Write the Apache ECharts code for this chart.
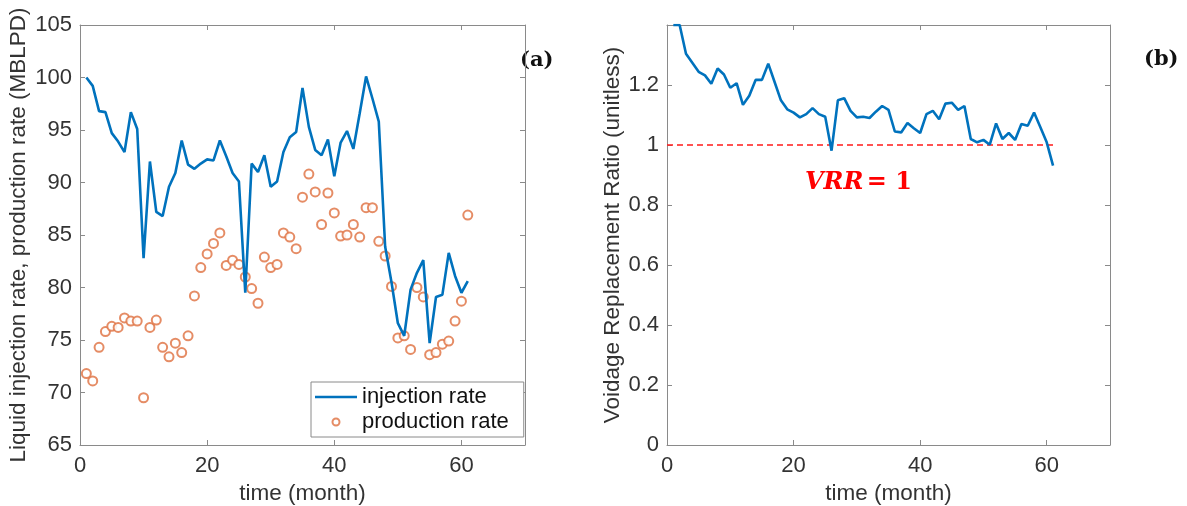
<!DOCTYPE html>
<html>
<head>
<meta charset="utf-8">
<script src="https://cdn.jsdelivr.net/npm/echarts@6/dist/echarts.min.js"></script>
<style>
  html, body { margin: 0; padding: 0; background: #fff; }
  #chart { width: 1187px; height: 506px; }
</style>
</head>
<body>
<div id="chart"></div>
<script>
// Monthly time index
const months = [1, 2, 3, 4, 5, 6, 7, 8, 9, 10, 11, 12, 13, 14, 15, 16, 17, 18, 19, 20,
  21, 22, 23, 24, 25, 26, 27, 28, 29, 30, 31, 32, 33, 34, 35, 36, 37, 38, 39, 40,
  41, 42, 43, 44, 45, 46, 47, 48, 49, 50, 51, 52, 53, 54, 55, 56, 57, 58, 59, 60, 61];

// Liquid injection rate (MBLPD)
const injectionRate = [100.0, 99.2, 96.8, 96.7, 94.7, 93.9, 92.9, 96.7, 95.1, 82.8,
  92.0, 87.2, 86.8, 89.6, 90.9, 94.0, 91.7, 91.3, 91.8, 92.2,
  92.1, 94.0, 92.5, 90.9, 90.1, 79.5, 91.8, 91.0, 92.6, 89.6,
  90.1, 92.9, 94.3, 94.8, 99.0, 95.3, 93.1, 92.6, 94.1, 90.6,
  93.8, 94.9, 93.2, 96.6, 100.1, 98.0, 95.8, 83.9, 80.5, 76.6,
  75.4, 79.8, 81.4, 82.6, 74.7, 79.1, 79.3, 83.3, 81.1, 79.5, 80.6];

// Liquid production rate (MBLPD)
const productionRate = [71.8, 71.1, 74.3, 75.8, 76.3, 76.2, 77.1, 76.8, 76.8, 69.5,
  76.2, 76.9, 74.3, 73.4, 74.7, 73.8, 75.4, 79.2, 81.9, 83.2,
  84.2, 85.2, 82.1, 82.6, 82.2, 81.0, 79.9, 78.5, 82.9, 81.9,
  82.2, 85.2, 84.8, 83.7, 88.6, 90.8, 89.1, 86.0, 89.0, 87.1,
  84.9, 85.0, 86.0, 84.8, 87.6, 87.6, 84.4, 83.0, 80.1, 75.2,
  75.4, 74.1, 80.0, 79.1, 73.6, 73.8, 74.6, 74.9, 76.8, 78.7, 86.9];

// Voidage replacement ratio (unitless)
const vrr = [1.40, 1.40, 1.304, 1.274, 1.244, 1.232, 1.204, 1.255, 1.235, 1.191,
  1.206, 1.134, 1.164, 1.217, 1.217, 1.271, 1.210, 1.149, 1.119, 1.108,
  1.092, 1.103, 1.123, 1.103, 1.094, 0.981, 1.149, 1.156, 1.114, 1.092,
  1.094, 1.090, 1.111, 1.130, 1.117, 1.045, 1.042, 1.073, 1.056, 1.040,
  1.103, 1.114, 1.086, 1.138, 1.141, 1.117, 1.130, 1.020, 1.009, 1.017,
  1.001, 1.072, 1.020, 1.040, 1.017, 1.070, 1.064, 1.108, 1.059, 1.009, 0.931];

// Reference level VRR = 1, spanning the record
const vrrRefX = [0, 61];
const vrrRefY = [1, 1];

const FONT = '"Liberation Sans", Arial, sans-serif';
const AXIS_GRAY = '#8a8a8a';
const TEXT_DARK = '#333333';
const TICK_FONT = 22;
const NAME_FONT = 22.5;

function bottomAxis(gridIndex, name) {
  return {
    type: 'value', gridIndex, position: 'bottom',
    min: 0, max: 70, interval: 20,
    name, nameLocation: 'middle', nameGap: 37,
    nameTextStyle: { fontFamily: FONT, fontSize: NAME_FONT, color: TEXT_DARK },
    axisLine: { show: true, onZero: false, lineStyle: { color: AXIS_GRAY, width: 1 } },
    axisTick: { show: true, inside: true, length: 5, lineStyle: { color: AXIS_GRAY } },
    axisLabel: { fontFamily: FONT, fontSize: TICK_FONT, color: TEXT_DARK, margin: 10, showMaxLabel: false },
    splitLine: { show: false }
  };
}
function topAxis(gridIndex) {
  return {
    type: 'value', gridIndex, position: 'top',
    min: 0, max: 70, interval: 20,
    axisLine: { show: true, onZero: false, lineStyle: { color: AXIS_GRAY, width: 1 } },
    axisTick: { show: true, inside: true, length: 5, lineStyle: { color: AXIS_GRAY } },
    axisLabel: { show: false },
    splitLine: { show: false }
  };
}
function leftAxis(gridIndex, min, max, interval, name, nameGap) {
  return {
    type: 'value', gridIndex, position: 'left',
    min, max, interval,
    name, nameLocation: 'middle', nameGap,
    nameTextStyle: { fontFamily: FONT, fontSize: NAME_FONT, color: TEXT_DARK },
    axisLine: { show: true, onZero: false, lineStyle: { color: AXIS_GRAY, width: 1 } },
    axisTick: { show: true, inside: true, length: 5, lineStyle: { color: AXIS_GRAY } },
    axisLabel: { fontFamily: FONT, fontSize: TICK_FONT, color: TEXT_DARK, margin: 8 },
    splitLine: { show: false }
  };
}
function rightAxis(gridIndex, min, max, interval) {
  return {
    type: 'value', gridIndex, position: 'right',
    min, max, interval,
    axisLine: { show: true, onZero: false, lineStyle: { color: AXIS_GRAY, width: 1 } },
    axisTick: { show: true, inside: true, length: 5, lineStyle: { color: AXIS_GRAY } },
    axisLabel: { show: false },
    splitLine: { show: false }
  };
}

const rightY = leftAxis(1, 0, 1.4, 0.2, 'Voidage Replacement Ratio (unitless)', 43);
rightY.axisLabel.showMaxLabel = false;

const chart = echarts.init(document.getElementById('chart'), null, { renderer: 'canvas' });
chart.setOption({
  animation: false,
  backgroundColor: '#ffffff',
  grid: [
    { left: 80, top: 25, width: 445, height: 420, containLabel: false, outerBoundsMode: 'none' },
    { left: 667, top: 25, width: 443, height: 420, containLabel: false, outerBoundsMode: 'none' }
  ],
  xAxis: [
    bottomAxis(0, 'time (month)'),
    topAxis(0),
    bottomAxis(1, 'time (month)'),
    topAxis(1)
  ],
  yAxis: [
    leftAxis(0, 65, 105, 5, 'Liquid injection rate, production rate (MBLPD)', 50),
    rightAxis(0, 65, 105, 5),
    rightY,
    rightAxis(1, 0, 1.4, 0.2)
  ],
  legend: {
    orient: 'vertical',
    left: 311, top: 382,
    padding: [4, 15, 4, 4],
    itemGap: 3,
    itemWidth: 42, itemHeight: 7,
    backgroundColor: '#ffffff',
    borderColor: AXIS_GRAY, borderWidth: 1,
    textStyle: { fontFamily: FONT, fontSize: 22, color: '#111111' },
    data: [
      { name: 'injection rate', icon: 'path://M0,3.8H42V6.2H0Z', itemStyle: { color: '#0072BD' } },
      { name: 'production rate', icon: 'emptyCircle' }
    ]
  },
  series: [
    {
      name: 'injection rate', type: 'line',
      xAxisIndex: 0, yAxisIndex: 0,
      data: months.map((m, i) => [m, injectionRate[i]]),
      showSymbol: false, symbol: 'none',
      lineStyle: { color: '#0072BD', width: 2.6 },
      itemStyle: { color: '#0072BD' },
      z: 3
    },
    {
      name: 'production rate', type: 'scatter',
      xAxisIndex: 0, yAxisIndex: 0,
      data: months.map((m, i) => [m, productionRate[i]]),
      symbol: 'emptyCircle', symbolSize: 9,
      itemStyle: { color: '#E0784A', borderColor: '#E0784A', borderWidth: 1, opacity: 0.85 },
      z: 2
    },
    {
      name: 'VRR', type: 'line',
      xAxisIndex: 2, yAxisIndex: 2,
      data: months.map((m, i) => [m, vrr[i]]),
      showSymbol: false, symbol: 'none', clip: true,
      lineStyle: { color: '#0072BD', width: 2.6 },
      z: 3
    },
    {
      name: 'VRR = 1', type: 'line',
      xAxisIndex: 2, yAxisIndex: 2,
      data: vrrRefX.map((x, i) => [x, vrrRefY[i]]),
      showSymbol: false, symbol: 'none',
      lineStyle: { color: '#FF1A1A', width: 1.6, type: [6, 4] },
      z: 2
    }
  ],
  graphic: [
    {
      type: 'text', left: 520, top: 50,
      style: { text: '(a)', font: 'bold 21px "DejaVu Serif", serif', fill: '#111111' }
    },
    {
      type: 'text', left: 1144, top: 49,
      style: { text: '(b)', font: 'bold 21px "DejaVu Serif", serif', fill: '#111111' }
    },
    {
      type: 'text', left: 805, top: 171,
      style: {
        text: '{v|VRR} {e|= 1}',
        rich: {
          v: { font: 'italic bold 24px "DejaVu Serif", serif', fill: '#FF0000' },
          e: { font: 'bold 24px "DejaVu Serif", serif', fill: '#FF0000' }
        }
      }
    }
  ]
});
</script>
</body>
</html>
